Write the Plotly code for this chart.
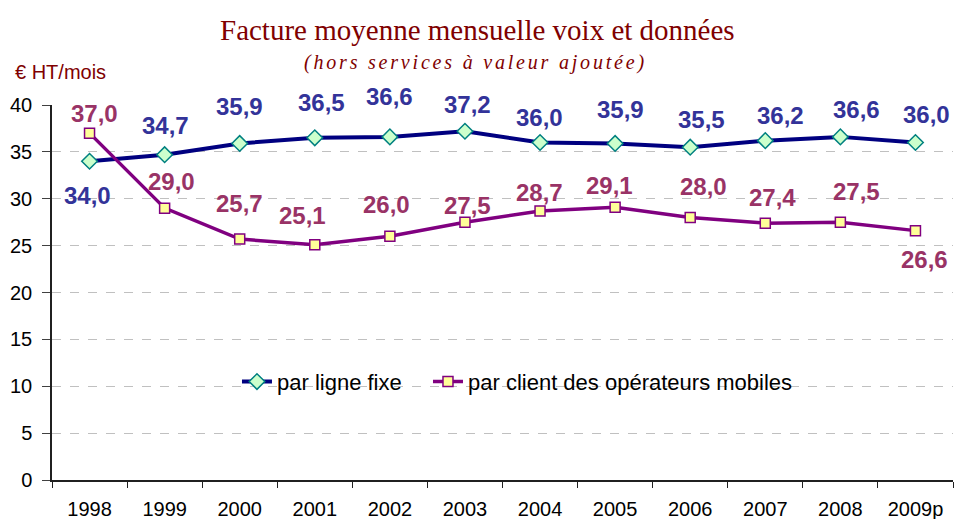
import plotly.graph_objects as go

# Average monthly bill (voice + data), € HT per month
years = ["1998", "1999", "2000", "2001", "2002", "2003", "2004", "2005",
         "2006", "2007", "2008", "2009p"]
fixe = [34.0, 34.7, 35.9, 36.5, 36.6, 37.2, 36.0, 35.9, 35.5, 36.2, 36.6, 36.0]
mobile = [37.0, 29.0, 25.7, 25.1, 26.0, 27.5, 28.7, 29.1, 28.0, 27.4, 27.5, 26.6]

name_fixe = "par ligne fixe"
name_mobile = "par client des opérateurs mobiles"

# label offsets (px) relative to each marker
fixe_dx = [-2, 1, 0, 7, 0, 3, -1, 5, 11, 15, 16, 11]
fixe_dy = [-34, 29, 37, 35, 40, 27, 25, 34, 28, 25, 27, 28]
mob_dx = [5, 7, 0, -12, -3, 3, -1, -6, 13, 7, 16, 9]
mob_dy = [20, 27, 36, 29, 32, 17, 18, 22, 31, 26, 31, -29]

FONT = "Liberation Sans, Arial, sans-serif"
SERIF = "Liberation Serif, Times New Roman, serif"
DARKRED = "#800000"


def fmt(v):
    return f"{v:.1f}".replace(".", ",")


fig = go.Figure()
fig.add_trace(go.Scatter(
    x=years, y=fixe, name=name_fixe, mode="lines+markers", legend="legend",
    line=dict(color="#000080", width=4),
    marker=dict(symbol="diamond", size=12, color="#CCFFCC",
                line=dict(color="#008080", width=1.5)),
))
fig.add_trace(go.Scatter(
    x=years, y=mobile, name=name_mobile, mode="lines+markers", legend="legend2",
    line=dict(color="#800080", width=3.5),
    marker=dict(symbol="square", size=10, color="#FFFF99",
                line=dict(color="#800080", width=1.5)),
))

annotations = []
# category positions are given by index so that year strings
# are not read as numbers
for i, (v, dx, dy) in enumerate(zip(fixe, fixe_dx, fixe_dy)):
    annotations.append(dict(x=i, y=v, xref="x", yref="y", text=fmt(v),
                            showarrow=False, xshift=dx, yshift=dy,
                            font=dict(family=FONT, size=24, color="#333399",
                                      weight="bold")))
for i, (v, dx, dy) in enumerate(zip(mobile, mob_dx, mob_dy)):
    annotations.append(dict(x=i, y=v, xref="x", yref="y", text=fmt(v),
                            showarrow=False, xshift=dx, yshift=dy,
                            font=dict(family=FONT, size=24, color="#993366",
                                      weight="bold")))

# titles and unit label
annotations.append(dict(x=0.4728, y=1.2, xref="paper", yref="paper",
                        text="Facture moyenne mensuelle voix et données",
                        showarrow=False, xanchor="center", yanchor="middle",
                        font=dict(family=SERIF, size=29, color=DARKRED)))
annotations.append(dict(x=0.4695, y=1.112, xref="paper", yref="paper",
                        text='<span style="letter-spacing:2.8px"><i>(hors services à valeur ajoutée)</i></span>',
                        showarrow=False, xanchor="center", yanchor="middle",
                        font=dict(family=SERIF, size=20, color=DARKRED)))
annotations.append(dict(x=-0.0433, y=1.088, xref="paper", yref="paper",
                        text="€ HT/mois", showarrow=False,
                        xanchor="left", yanchor="middle",
                        font=dict(family=FONT, size=20, color=DARKRED)))

legend_style = dict(orientation="h", y=0.262, xanchor="left", yanchor="middle",
                    bgcolor="rgba(0,0,0,0)",
                    font=dict(family=FONT, size=22, color="black"),
                    itemwidth=30)

fig.update_layout(
    width=956, height=519,
    margin=dict(l=52, r=3, t=105, b=39),
    paper_bgcolor="white", plot_bgcolor="white",
    font=dict(family=FONT, size=20, color="black"),
    showlegend=True,
    legend=dict(x=0.2053, **legend_style),
    legend2=dict(x=0.4173, **legend_style),
    annotations=annotations,
)
fig.update_xaxes(
    type="category", range=[-0.5, 11.5], showgrid=False, automargin=False,
    showline=True, linecolor="#202020", linewidth=1.5,
    ticks="outside", tickson="boundaries", ticklen=6, tickcolor="#202020",
    ticklabelstandoff=10,
    tickfont=dict(family=FONT, size=20, color="black"),
)
fig.update_yaxes(
    range=[0, 40], dtick=5, tick0=0, automargin=False,
    showgrid=True, gridcolor="#C0C0C0", griddash="dash", gridwidth=1,
    zeroline=False, showline=True, linecolor="#202020", linewidth=1.5,
    ticks="outside", ticklen=8, tickcolor="#404040",
    ticklabelstandoff=6,
    tickfont=dict(family=FONT, size=20, color="black"),
)

fig.write_html("out.html")
